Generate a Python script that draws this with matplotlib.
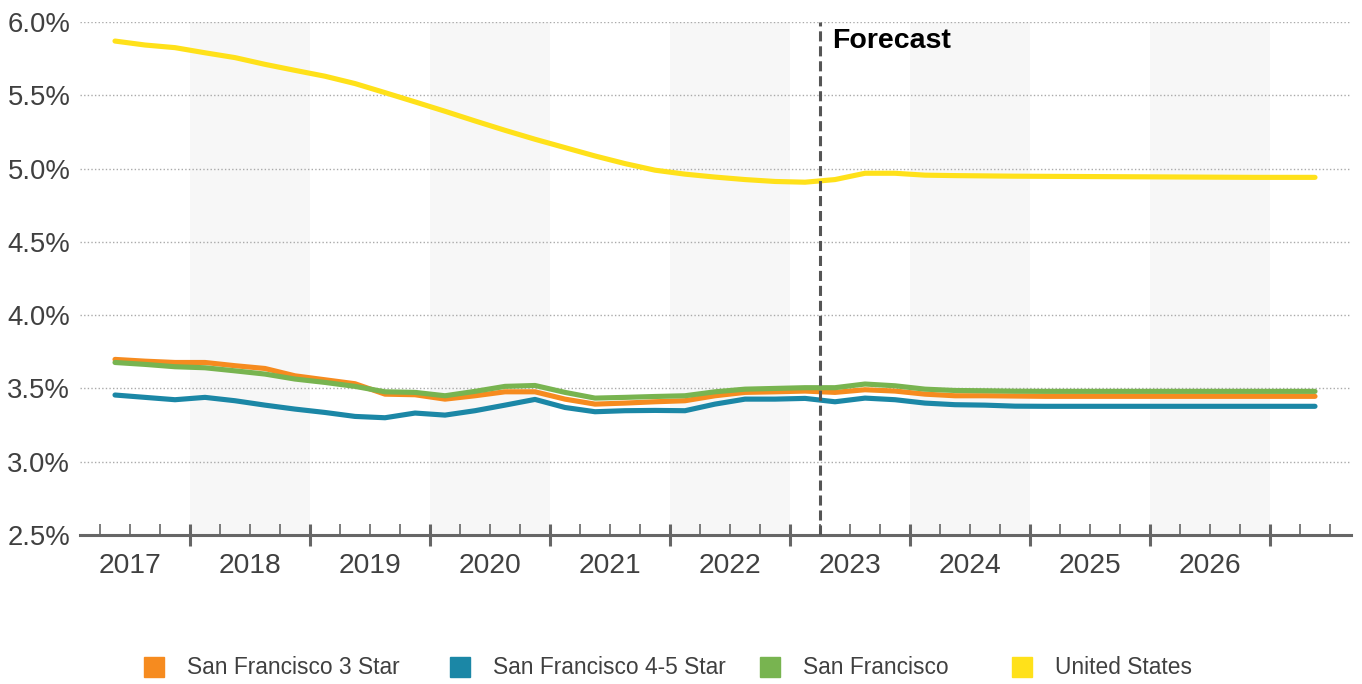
import matplotlib
matplotlib.use("Agg")
import matplotlib.pyplot as plt
from matplotlib.lines import Line2D
import numpy as np

plt.rcParams['font.family'] = ['Liberation Sans', 'DejaVu Sans']

# ---------------- data ----------------
quarters = [f"{y} Q{q}" for y in range(2017, 2028) for q in range(1, 5)][1:42]  # 2017 Q2 .. 2027 Q2
years = list(range(2017, 2027))
forecast_start = "2023 Q2"

sf_3star = [3.698, 3.686, 3.677, 3.677, 3.655, 3.636, 3.586, 3.559, 3.532, 3.461,
            3.457, 3.427, 3.450, 3.477, 3.477, 3.427, 3.393, 3.400, 3.409, 3.416,
            3.450, 3.473, 3.477, 3.482, 3.473, 3.491, 3.482, 3.461, 3.450, 3.450,
            3.448, 3.446, 3.446, 3.446, 3.446, 3.446, 3.446, 3.446, 3.446, 3.446, 3.446]
sf_45star = [3.455, 3.439, 3.423, 3.439, 3.416, 3.386, 3.359, 3.336, 3.309, 3.300,
             3.332, 3.318, 3.348, 3.386, 3.425, 3.370, 3.341, 3.348, 3.350, 3.348,
             3.393, 3.427, 3.427, 3.432, 3.409, 3.434, 3.423, 3.400, 3.389, 3.386,
             3.379, 3.378, 3.378, 3.378, 3.378, 3.378, 3.378, 3.378, 3.378, 3.378, 3.378]
sf_all = [3.677, 3.664, 3.648, 3.641, 3.620, 3.598, 3.564, 3.541, 3.514, 3.477,
          3.473, 3.450, 3.480, 3.514, 3.520, 3.473, 3.434, 3.439, 3.445, 3.450,
          3.477, 3.495, 3.500, 3.505, 3.505, 3.530, 3.518, 3.495, 3.486, 3.484,
          3.481, 3.480, 3.480, 3.480, 3.480, 3.480, 3.480, 3.480, 3.480, 3.480, 3.480]
us = [5.870, 5.843, 5.825, 5.790, 5.757, 5.711, 5.670, 5.630, 5.580, 5.518,
      5.455, 5.391, 5.325, 5.261, 5.200, 5.143, 5.086, 5.034, 4.989, 4.962,
      4.942, 4.925, 4.912, 4.907, 4.925, 4.968, 4.968, 4.955, 4.952, 4.950,
      4.948, 4.947, 4.946, 4.945, 4.944, 4.943, 4.942, 4.941, 4.940, 4.940, 4.940]

series_names = ["San Francisco 3 Star", "San Francisco 4-5 Star", "San Francisco", "United States"]
series_colors = ["#F68B1F", "#1B87A6", "#78B450", "#FFE11A"]
y_ticks = [2.5, 3.0, 3.5, 4.0, 4.5, 5.0, 5.5, 6.0]


def qpos(label, center=True):
    y, q = label.split(" Q")
    return int(y) + (int(q) - 1) * 0.25 + (0.125 if center else 0.0)


x = np.array([qpos(q) for q in quarters])

# ---------------- figure ----------------
W, H = 1362, 684
fig = plt.figure(figsize=(W / 100, H / 100), dpi=100)
ax = fig.add_axes([80 / W, 1 - 535 / H, (1351 - 80) / W, (535 - 22) / H])

XMIN, XMAX = 2017.0833, 2027.675

# alternating year bands
for yr in years:
    if yr % 2 == 0:
        ax.axvspan(yr, yr + 1, color="#F7F7F7", zorder=0, lw=0)

# grid
ax.set_yticks(y_ticks)
ax.set_yticklabels([f"{v:.1f}%" for v in y_ticks])
ax.yaxis.grid(True, linestyle=(0, (1, 1.6)), color="#AAAAAA", linewidth=1.0)
ax.set_axisbelow(True)

# lines
for vals, name, col in zip([sf_3star, sf_45star, sf_all, us], series_names, series_colors):
    ax.plot(x, vals, color=col, lw=3.7, solid_capstyle="round", solid_joinstyle="round",
            zorder=3, label=name)

# forecast line
fx = qpos(forecast_start, center=False)
ax.axvline(fx, color="#555555", lw=2.2, linestyle=(0, (3.3, 1.6)), zorder=5)
ax.text(fx + 12 / 120, 6.0 - 6 / 146.8, "Forecast", fontsize=20.5, fontweight="bold",
        color="black", ha="left", va="top", zorder=6)

# spines & ticks
for s in ["left", "right", "top"]:
    ax.spines[s].set_visible(False)
ax.spines["bottom"].set_color("#666666")
ax.spines["bottom"].set_linewidth(2.2)
ax.spines["bottom"].set_zorder(4)

ax.set_xticks(range(2018, 2028))
minor = [v + d for v in range(2017, 2028) for d in (0.25, 0.5, 0.75)]
ax.set_xticks([m for m in minor if XMIN < m < XMAX], minor=True)
ax.set_xlim(XMIN, XMAX)
ax.set_ylim(2.5, 6.0)
ax.tick_params(axis="x", which="major", direction="inout", length=16, width=2.2,
               color="#666666", labelbottom=False)
ax.tick_params(axis="x", which="minor", direction="in", length=8, width=1.2,
               color="#666666", labelbottom=False)
ax.tick_params(axis="y", length=0, pad=7, labelsize=19.8, labelcolor="#404040")

for yr in years:
    ax.text(yr + 0.5, 2.5 - 31 / 146.8, str(yr), ha="center", va="center",
            fontsize=20.3, color="#404040", clip_on=False)

# legend (one entry per block, positioned along the bottom)
text_starts = [187, 493, 803, 1055]
for name, col, tx in zip(series_names, series_colors, text_starts):
    h = Line2D([0], [0], marker="s", linestyle="none", markersize=13.8,
               markerfacecolor=col, markeredgecolor=col)
    fig.legend([h], [name], loc="center left", bbox_to_anchor=((tx - 43) / W, 1 - 668 / H),
               frameon=False, fontsize=16.4, handlelength=0.85, handletextpad=1.05,
               borderpad=0, borderaxespad=0, labelcolor="#404040")

fig.savefig("out.png", dpi=100)
